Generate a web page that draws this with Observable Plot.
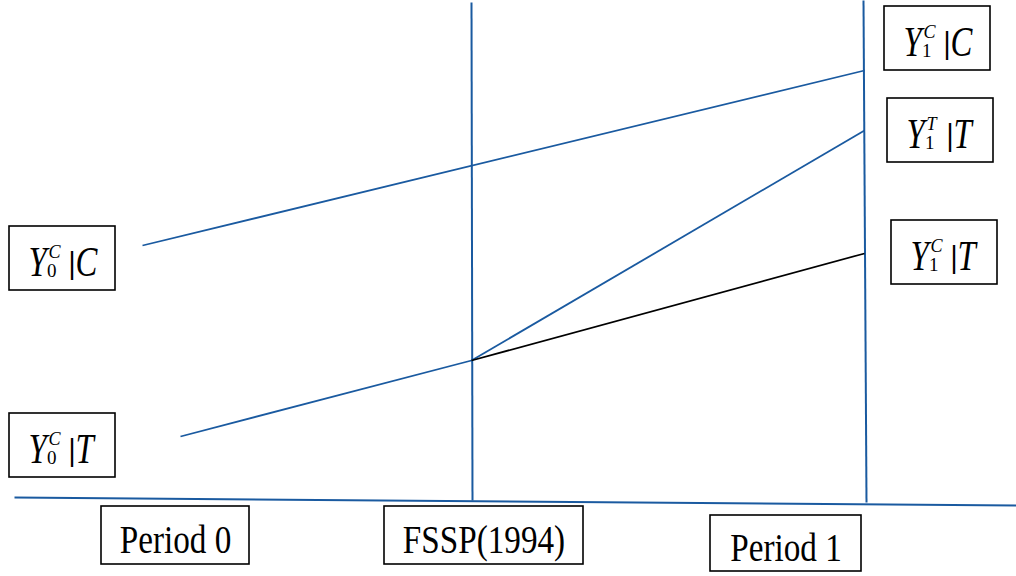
<!DOCTYPE html>
<html>
<head>
<meta charset="utf-8">
<script src="https://cdn.jsdelivr.net/npm/d3@7"></script>
<script src="https://cdn.jsdelivr.net/npm/@observablehq/plot@0.6"></script>
<style>
  html, body { margin: 0; padding: 0; background: #fff; }
  #chart svg { display: block; }
</style>
</head>
<body>
<div id="chart"></div>
<script>
// ---- Data (diagram units: x = horizontal time position, y = outcome level) ----
// Outcome segments
const segKind = ["control", "treatedPre", "treatedPost", "counterfactual"];
const segX1 = [142, 180, 471, 471];
const segY1 = [331, 140, 216, 216];
const segX2 = [864, 471, 864, 864];
const segY2 = [506, 216, 446, 323];

// Reference lines: FSSP(1994) vertical, Period 1 vertical, time baseline
const refKind = ["fssp", "period1", "baseline"];
const refX1 = [471, 863, 14];
const refY1 = [574, 576, 79];
const refX2 = [472, 866, 1016];
const refY2 = [76, 74, 71];

// Outcome labels  Y^{sup}_{sub} | group
const labelMain  = ["Y", "Y", "Y", "Y", "Y"];
const labelSup   = ["C", "T", "C", "C", "C"];
const labelSub   = ["1", "1", "1", "0", "0"];
const labelGroup = ["C", "T", "T", "C", "T"];
const labelX = [937, 940, 944, 62, 62];
const labelY = [538, 446, 324, 318, 131];

// Period labels on the time axis
const periodNames = ["Period 0", "FSSP(1994)", "Period 1"];
const periodX = [175, 483.5, 785.5];
const periodY = [41, 41, 33];

// ---- Styles / sizes ----
const blue = "#1a5aa0";
const labelBoxW = 106, labelBoxH = 64;
const periodBoxW = [148, 199, 151], periodBoxH = [58, 58, 56];
const serif = "Liberation Serif, DejaVu Serif, serif";

const idxL = d3.range(labelMain.length);
const idxP = d3.range(periodNames.length);

const mathPieces = [
  {text: i => labelMain[i],  dx: -34,   dy: 17, size: 42, style: "italic", weight: "normal", sx: 0.78},
  {text: i => labelSup[i],   dx: -14,   dy: -1, size: 19, style: "italic", weight: "normal", sx: 0.95},
  {text: i => labelSub[i],   dx: -15.5, dy: 18, size: 19, style: "normal", weight: "normal", sx: 1},
  {text: () => "|",          dx: 6,     dy: 14, size: 32, style: "normal", weight: "bold",   sx: 1},
  {text: i => labelGroup[i], dx: 13,    dy: 17, size: 42, style: "italic", weight: "normal", sx: 0.78}
];
const periodSx = 0.83;

const chart = Plot.plot({
  width: 1016,
  height: 576,
  margin: 0,
  x: {domain: [0, 1016], range: [0, 1016], axis: null},
  y: {domain: [0, 576], range: [576, 0], axis: null},
  marks: [
    Plot.link(refKind, {x1: refX1, y1: refY1, x2: refX2, y2: refY2, stroke: blue, strokeWidth: 2}),
    Plot.link(segKind, {
      x1: segX1, y1: segY1, x2: segX2, y2: segY2,
      stroke: d => d === "counterfactual" ? "#000" : blue,
      strokeWidth: 1.8
    }),
    // outcome label boxes
    Plot.rect(idxL, {
      x1: i => labelX[i] - labelBoxW / 2, x2: i => labelX[i] + labelBoxW / 2,
      y1: i => labelY[i] - labelBoxH / 2, y2: i => labelY[i] + labelBoxH / 2,
      fill: "#fff", stroke: "#000", strokeWidth: 1.6
    }),
    // period boxes
    Plot.rect(idxP, {
      x1: i => periodX[i] - periodBoxW[i] / 2, x2: i => periodX[i] + periodBoxW[i] / 2,
      y1: i => periodY[i] - periodBoxH[i] / 2, y2: i => periodY[i] + periodBoxH[i] / 2,
      fill: "#fff", stroke: "#000", strokeWidth: 1.6
    }),
    Plot.text(idxP, {
      x: i => periodX[i], y: i => periodY[i], text: i => periodNames[i],
      dy: 17, fontSize: 40, fontFamily: serif, fill: "#000",
      textAnchor: "middle", lineAnchor: "bottom"
    }),
    ...mathPieces.map(p => Plot.text(idxL, {
      x: i => labelX[i], y: i => labelY[i], text: p.text,
      dx: p.dx, dy: p.dy, fontSize: p.size, fontStyle: p.style, fontWeight: p.weight,
      fontFamily: serif, fill: "#000", textAnchor: "start", lineAnchor: "bottom"
    }))
  ]
});

// narrow glyphs horizontally (condensed proportions of the original);
// text-mark groups appear in mark order: period labels, then the math pieces
const textGroups = d3.select(chart).selectAll("g[aria-label='text']").nodes();
const sxList = [periodSx, ...mathPieces.map(p => p.sx)];
textGroups.forEach((g, k) => {
  const sx = sxList[k];
  if (sx == null || sx === 1) return;
  d3.select(g).selectAll("text").each(function () {
    const t = this.getAttribute("transform") || "";
    this.setAttribute("transform", t + ` scale(${sx},1)`);
  });
});

document.getElementById("chart").appendChild(chart);
</script>
</body>
</html>
